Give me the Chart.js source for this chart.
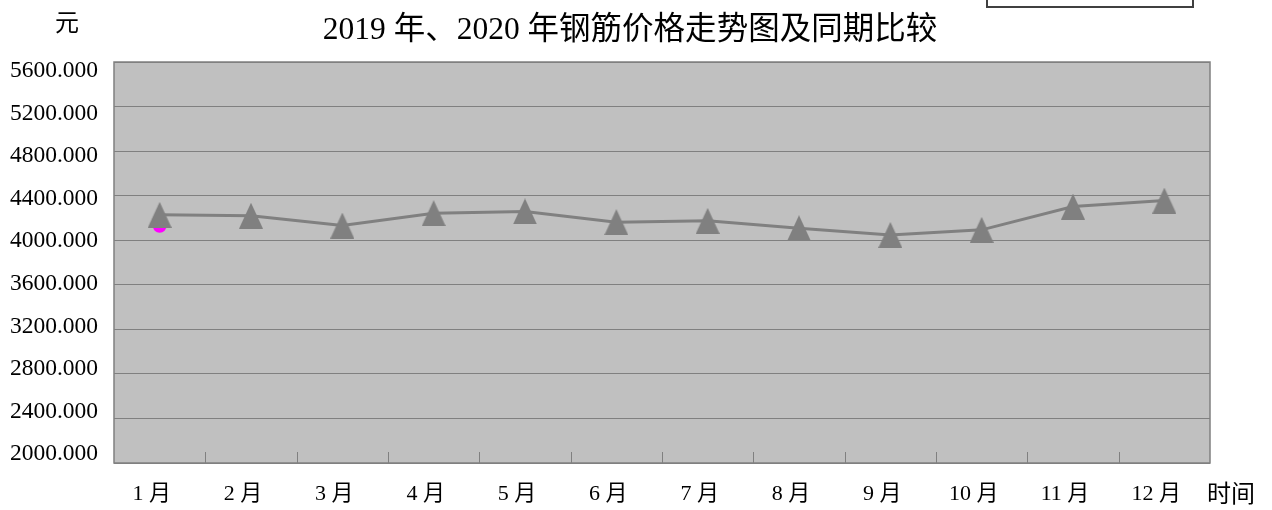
<!DOCTYPE html>
<html>
<head>
<meta charset="utf-8">
<script src="https://cdn.jsdelivr.net/npm/chart.js@4/dist/chart.umd.min.js"></script>
<style>
  body { margin: 0; background: #fff; }
  #wrap { position: relative; width: 1272px; height: 510px; overflow: hidden; }
  #legendBox { position: absolute; left: 986px; top: -10px; width: 204px; height: 14px;
               border: 2px solid #404040; background: #fff; }
</style>
</head>
<body>
<div id="wrap">
  <canvas id="chart" width="1272" height="510"></canvas>
  <div id="legendBox"></div>
</div>
<script>
const months = ['1 月','2 月','3 月','4 月','5 月','6 月','7 月','8 月','9 月','10 月','11 月','12 月'];
const price2019 = [4228, 4220, 4132, 4243, 4258, 4162, 4174, 4108, 4048, 4093, 4302, 4356];
const price2020 = [4130, null, null, null, null, null, null, null, null, null, null, null];
const yTicks = [2000, 2400, 2800, 3200, 3600, 4000, 4400, 4800, 5200, 5600];

const serif = '"Liberation Serif", "Times New Roman", "Noto Sans CJK SC", serif';

// tall grey triangle marker
const tri = document.createElement('canvas');
tri.width = 24; tri.height = 26;
(function(){
  const c = tri.getContext('2d');
  c.fillStyle = '#808080';
  c.beginPath();
  c.moveTo(12, 0); c.lineTo(24, 26); c.lineTo(0, 26); c.closePath();
  c.fill();
})();

const decor = {
  id: 'decor',
  beforeDraw(chart){
    const {ctx, chartArea: a} = chart;
    ctx.save();
    ctx.fillStyle = '#c0c0c0';
    ctx.fillRect(a.left, a.top, a.right - a.left, a.bottom - a.top);
    ctx.restore();
  },
  beforeDatasetsDraw(chart){
    const {ctx, chartArea: a, scales} = chart;
    const x = scales.x;
    ctx.save();
    ctx.strokeStyle = '#808080';
    ctx.lineWidth = 1.5;
    ctx.strokeRect(a.left, a.top, a.right - a.left, a.bottom - a.top);
    ctx.lineWidth = 1;
    for (let i = 1; i < months.length; i++) {
      const px = Math.round((x.getPixelForTick(i - 1) + x.getPixelForTick(i)) / 2) + 0.5;
      ctx.beginPath();
      ctx.moveTo(px, a.bottom);
      ctx.lineTo(px, a.bottom - 11);
      ctx.stroke();
    }
    ctx.restore();
  },
  afterDraw(chart){
    const {ctx, chartArea: a, scales} = chart;
    const y = scales.y;
    ctx.save();
    ctx.fillStyle = '#000';
    // y labels: spread a little inside the plot top/bottom like the original
    ctx.font = '23.5px ' + serif;
    ctx.textAlign = 'right';
    ctx.textBaseline = 'middle';
    yTicks.forEach(v => {
      const f = (v - y.min) / (y.max - y.min);
      const py = (a.bottom - 9) - f * (a.bottom - a.top - 18);
      ctx.fillText(v.toFixed(3), y.right - 16, py);
    });
    ctx.textBaseline = 'alphabetic';
    ctx.textAlign = 'center';
    ctx.font = '31.5px ' + serif;
    ctx.fillText('2019 年、2020 年钢筋价格走势图及同期比较', 630, 39);
    ctx.font = '24px ' + serif;
    ctx.fillText('元', 67, 31);
    ctx.fillText('时间', 1231, 502);
    ctx.restore();
  }
};

new Chart(document.getElementById('chart').getContext('2d'), {
  type: 'line',
  data: {
    labels: months,
    datasets: [
      { label: '2019年', data: price2019, borderColor: '#808080', borderWidth: 3,
        pointStyle: tri, backgroundColor: '#808080', order: 1 },
      { label: '2020年', data: price2020, borderColor: '#ff00ff', backgroundColor: '#ff00ff',
        pointStyle: 'circle', pointRadius: 7, pointBorderWidth: 0, showLine: false, order: 2 }
    ]
  },
  options: {
    responsive: false,
    animation: false,
    layout: { padding: { top: 62, right: 62, left: 0, bottom: 0 } },
    plugins: { legend: { display: false }, title: { display: false }, tooltip: { enabled: false } },
    scales: {
      x: {
        offset: true,
        grid: { display: false, drawTicks: false },
        border: { display: false },
        ticks: { color: '#000', font: { family: serif, size: 22 }, padding: 18, labelOffset: -8,
                 maxRotation: 0, autoSkip: false },
        afterFit(s){ s.height = 47; }
      },
      y: {
        min: 2000, max: 5600,
        afterBuildTicks(s){ s.ticks = yTicks.map(v => ({ value: v })); },
        grid: { color: '#808080', lineWidth: 1, drawTicks: false },
        border: { display: false },
        ticks: { display: false },
        afterFit(s){ s.width = 114; }
      }
    }
  },
  plugins: [decor]
});
</script>
</body>
</html>
